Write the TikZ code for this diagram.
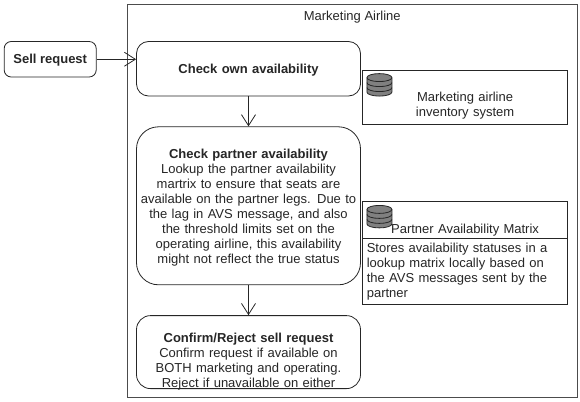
\documentclass[tikz,border=0pt]{standalone}
\usepackage{fontspec}
\setmainfont{Liberation Sans}
\usetikzlibrary{arrows.meta,positioning}

% stacked disks, drawn from the corner of the box that holds them
\newcommand{\dbicon}[1]{%
  \begin{scope}[shift={(#1)}, x=1pt, y=1pt, draw=black!85, fill=black!50, line width=0.8pt]
    \filldraw (4.5,-8) -- (4.5,-22.5) arc[start angle=180, end angle=360, x radius=12.5, y radius=4]
      -- (29.5,-8) arc[start angle=0, end angle=180, x radius=12.5, y radius=4] -- cycle;
    \draw (4.5,-8) arc[start angle=180, end angle=360, x radius=12.5, y radius=4];
    \draw (4.5,-13) arc[start angle=180, end angle=360, x radius=12.5, y radius=4];
    \draw (4.5,-18) arc[start angle=180, end angle=360, x radius=12.5, y radius=4];
  \end{scope}}
% tall first line, sets the text a little lower in its box
\newcommand{\toplift}{\rule{0pt}{12.7pt}}

\begin{document}
\begin{tikzpicture}[
    x=1pt, y=1pt,
    every node/.style={font=\fontsize{13}{15}\selectfont, text=black!85},
    step box/.style={rectangle, draw=black!85, fill=white, line width=0.8pt, align=center, text width=216pt, inner sep=4pt, minimum width=224pt},
    store box/.style={rectangle, draw=black!85, fill=white, line width=0.8pt, text width=196.5pt, inner sep=4pt, minimum width=204.5pt},
    arrow/.style={-{Straight Barb[length=11pt, width=14pt]}, line width=0.8pt, draw=black!85}
]
    \useasboundingbox (0,0) rectangle (580,-401);

    \node[rectangle, draw=black!70, line width=0.9pt, minimum width=449.5pt, minimum height=393pt, inner sep=0pt] (airline) at (352.25,-200.5) {};
    \node[below=7pt of airline.north, inner sep=0pt] (airlinetitle) {Marketing Airline};

    \node[step box, rounded corners=12pt, minimum height=54.5pt, text depth=0pt] (checkown) at (248.5,-68.75) {\textbf{Check own availability}};
    \node[step box, rounded corners=22pt, minimum height=158pt, below=30pt of checkown] (checkpartner) {\toplift\textbf{Check partner availability}\\Lookup the partner availability\\martrix to ensure that seats are\\available on the partner legs. Due to\\the lag in AVS message, and also\\the threshold limits set on the\\operating airline, this availability\\might not reflect the true status};
    \node[step box, rounded corners=14pt, minimum height=73pt, inner ysep=-2pt, below=30pt of checkpartner] (confirm) {\toplift\\\textbf{Confirm/Reject sell request}\\Confirm request if available on\\BOTH marketing and operating.\\Reject if unavailable on either};
    \node[rectangle, draw=black!85, fill=white, line width=0.8pt, rounded corners=7pt, minimum width=92pt, minimum height=35.5pt, inner sep=0pt, text depth=0pt, font=\fontsize{13}{15}\selectfont\bfseries, left=39.5pt of checkown, yshift=9.5pt] (sellrequest) {Sell request};

    \node[store box, align=center, minimum height=54pt, right=1.5pt of checkown, yshift=-28.25pt] (inventory) {\rule{0pt}{11.7pt}\\Marketing airline\\inventory system};
    \node[store box, align=center, minimum height=37pt, inner ysep=0pt, right=1.5pt of checkpartner, yshift=-14.5pt] (matrixtitle) {\toplift\\[2pt]Partner Availability Matrix};
    \node[store box, align=left, minimum height=64pt, below=-0.8pt of matrixtitle] (matrixtext) {Stores availability statuses in a\\lookup matrix locally based on\\the AVS messages sent by the\\partner};

    \dbicon{inventory.north west}
    \dbicon{matrixtitle.north west}

    \draw[arrow] (sellrequest) -- (sellrequest -| checkown.west);
    \draw[arrow] (checkown) -- (checkpartner);
    \draw[arrow] (checkpartner) -- (confirm);
\end{tikzpicture}
\end{document}
